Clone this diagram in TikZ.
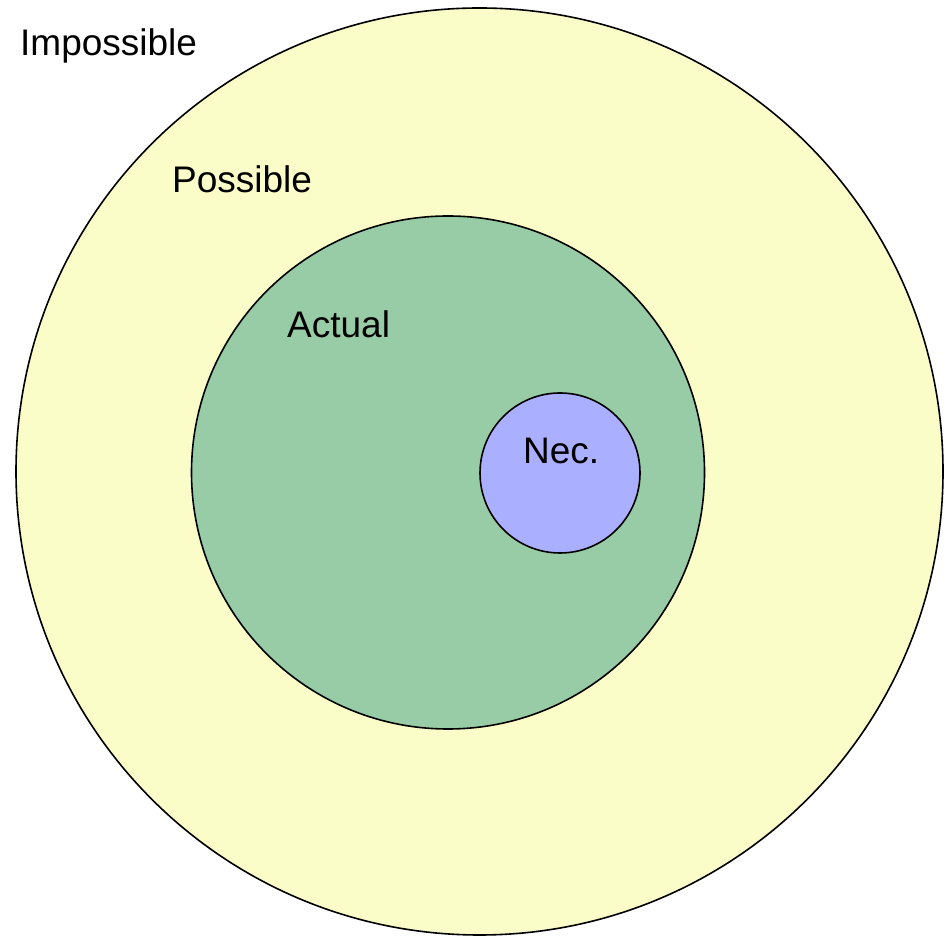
\documentclass[tikz,border=0pt]{standalone}
\usepackage{fontspec}
\setmainfont{Liberation Sans}
\usepackage{xcolor}
\usepackage{tikz}
\definecolor{modalPossible}{HTML}{FAFDC7}
\definecolor{modalActual}{HTML}{98CCA6}
\definecolor{modalNec}{HTML}{AAAFFF}

\begin{document}
\begin{tikzpicture}[x=1pt, y=1pt,
    ring/.style={circle, draw=black, line width=1.6pt, inner sep=0pt},
    lbl/.style={anchor=base west, inner sep=0pt, font=\fontsize{37}{44}\selectfont}]

    \useasboundingbox (0,0) rectangle (949,936);

    \node[ring, fill=modalPossible, minimum size=927pt] (possible) at (479.5,464.5) {};
    \node[ring, fill=modalActual, minimum size=513pt] (actual) at (448,463.5) {};
    \node[ring, fill=modalNec, minimum size=160pt] (nec) at (560,463) {};

    \node[lbl] (impossibleLbl) at (20,880) {Impossible};
    \node[lbl] (possibleLbl) at (172,743) {Possible};
    \node[lbl] (actualLbl) at (287,598) {Actual};
    \node[lbl] (necLbl) at (523,472) {Nec.};
\end{tikzpicture}
\end{document}
